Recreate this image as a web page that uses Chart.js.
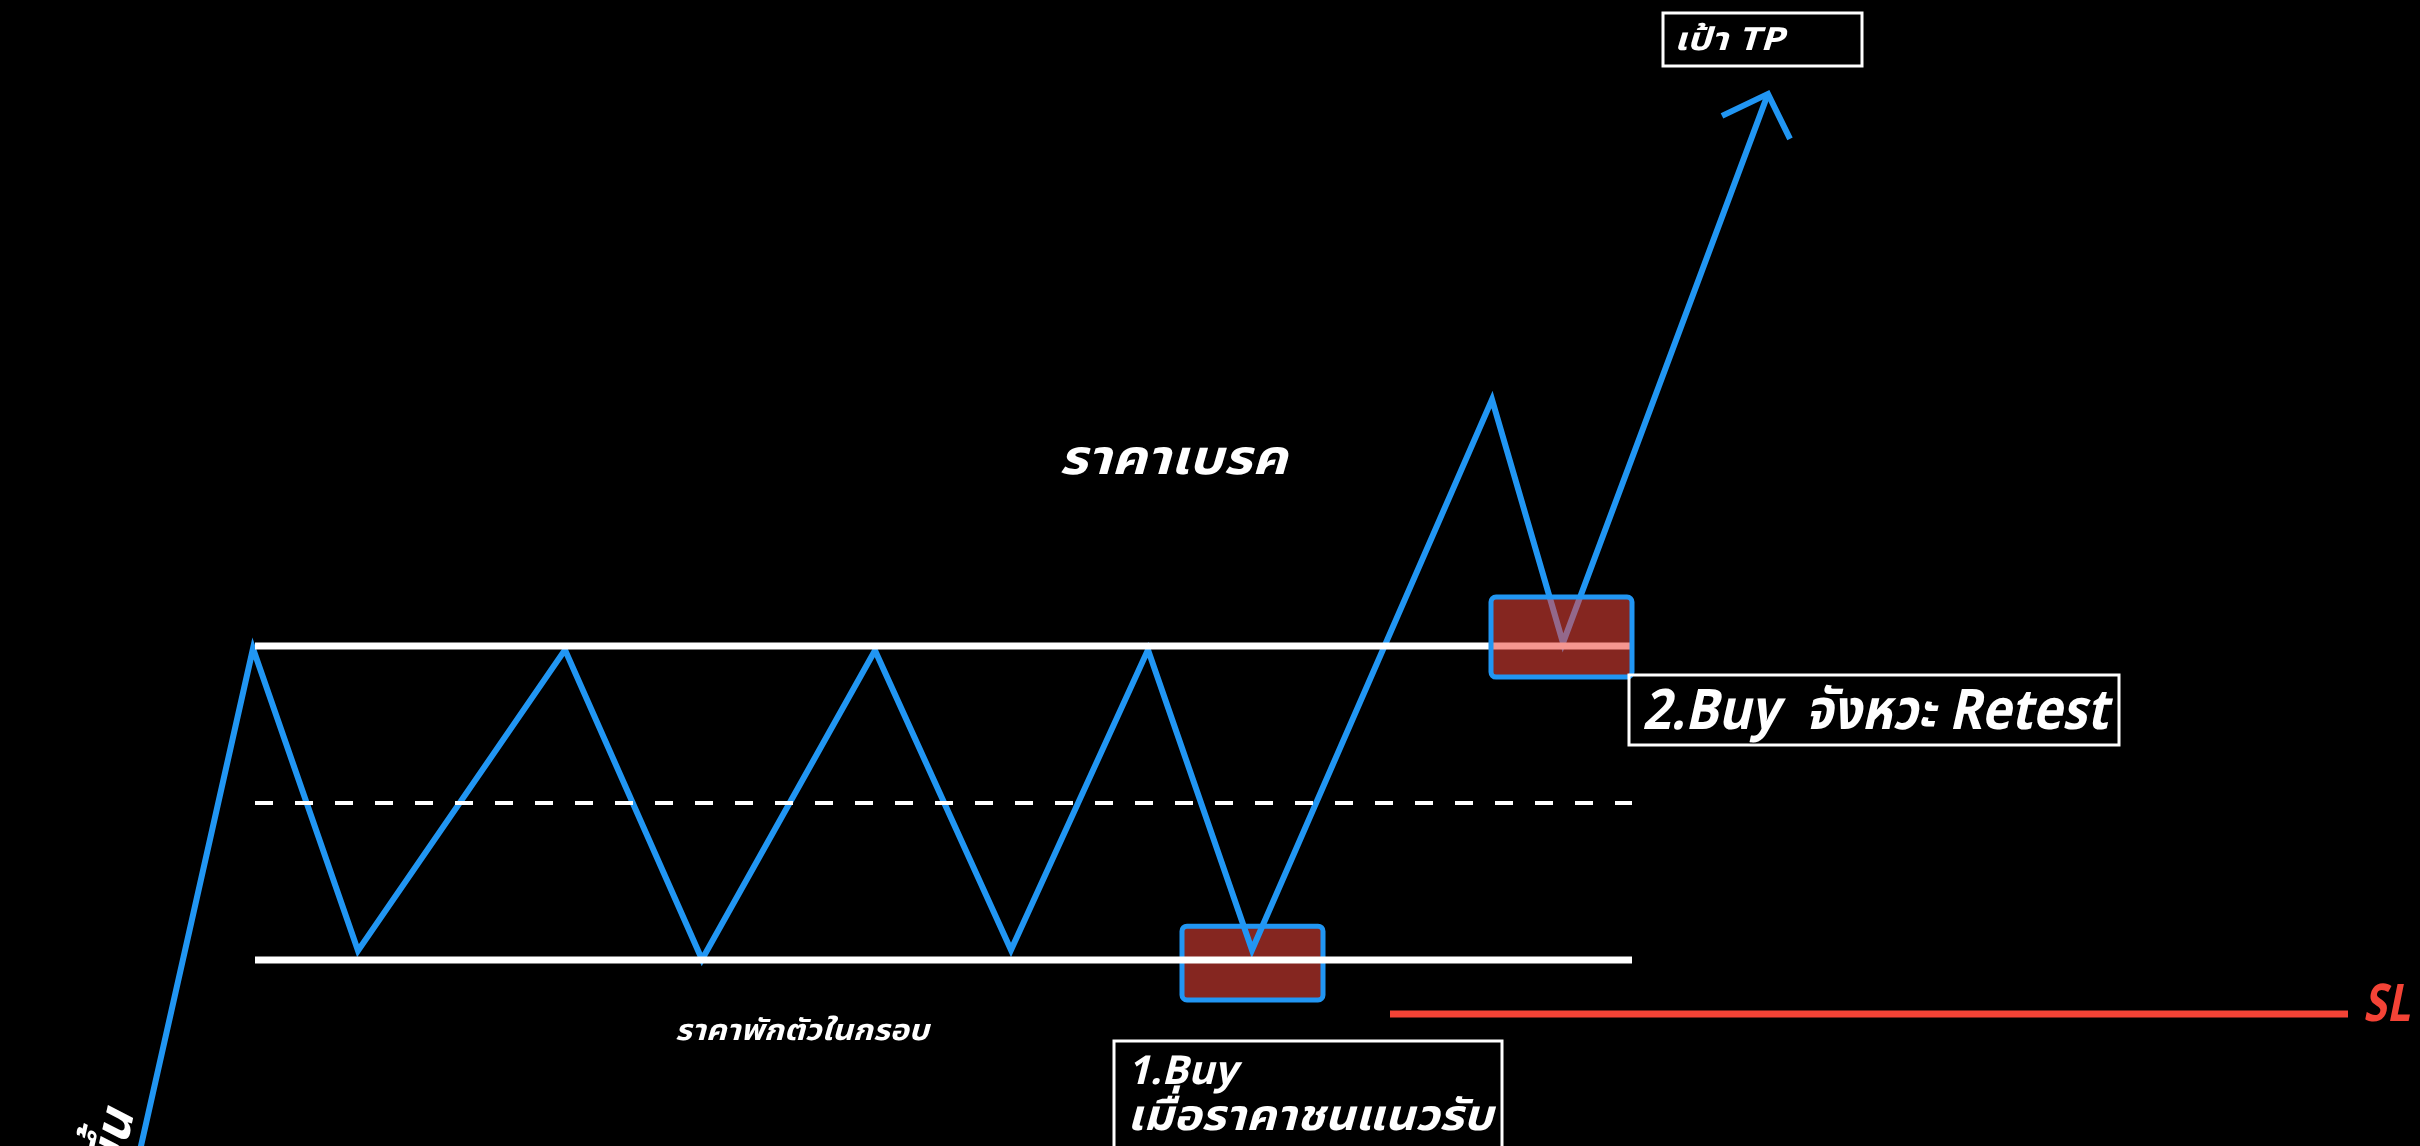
<!DOCTYPE html>
<html>
<head>
<meta charset="utf-8">
<script src="https://cdn.jsdelivr.net/npm/chart.js@4.4.1/dist/chart.umd.min.js"></script>
<style>
  html, body { margin: 0; padding: 0; background: #000; overflow: hidden; }
  canvas { display: block; }
</style>
</head>
<body>
<canvas id="chart" width="2420" height="1146"></canvas>
<script>
// ข้อมูลกราฟ (หน่วยเวลา x, ราคา y)
const pathX = [13.9, 25.3, 35.8, 56.5, 70.2, 87.5, 101.1, 114.8, 125.2, 149.2, 156.3, 176.8];
const pathY = [38.0, 199.2, 103.0, 198.8, 100.2, 198.6, 103.2, 198.8, 103.2, 278.5, 201.0, 375.8];

const arrowX = [172.2, 176.8, 179.0];
const arrowY = [368.8, 375.8, 361.5];

const rangeX = [25.5, 163.2];
const resistance = 200;
const midLevel = 150;
const support = 100;

const slX = [139.0, 234.8];
const slLevel = 82.8;

// โซนเข้า Buy
const zoneX = [[118.2, 132.3], [149.1, 163.2]];
const zoneY = [[87.3, 110.8], [190.1, 215.6]];

const BLUE = '#2196f3';
const RED = '#f44336';
const FONT = '"Noto Sans Thai", "Noto Sans", "DejaVu Sans", sans-serif';

const toPts = (xs, ys) => xs.map((x, i) => ({ x, y: ys[i] }));
const flat = (xs, y) => xs.map((x) => ({ x, y }));

const lineDs = (data, color, width, extra = {}) => ({
  data, borderColor: color, borderWidth: width, pointRadius: 0, tension: 0,
  fill: false, borderJoinStyle: 'miter', borderCapStyle: 'butt', ...extra,
});

const datasets = [
  lineDs(flat(rangeX, resistance), '#ffffff', 7),
  lineDs(flat(rangeX, support), '#ffffff', 7),
  lineDs(flat(rangeX, midLevel), '#ffffff', 4, { borderDash: [18, 22] }),
  lineDs(flat(slX, slLevel), RED, 7),
  lineDs(toPts(pathX, pathY), BLUE, 6),
  lineDs(toPts(arrowX, arrowY), BLUE, 6),
];
const PATH_INDEX = 4;

const roundRect = (ctx, x, y, w, h, r) => {
  ctx.beginPath();
  ctx.moveTo(x + r, y);
  ctx.arcTo(x + w, y, x + w, y + h, r);
  ctx.arcTo(x + w, y + h, x, y + h, r);
  ctx.arcTo(x, y + h, x, y, r);
  ctx.arcTo(x, y, x + w, y, r);
  ctx.closePath();
};

const drawZone = (chart, i) => {
  const { ctx, scales: { x, y } } = chart;
  const x0 = x.getPixelForValue(zoneX[i][0]);
  const x1 = x.getPixelForValue(zoneX[i][1]);
  const y0 = y.getPixelForValue(zoneY[i][1]);
  const y1 = y.getPixelForValue(zoneY[i][0]);
  ctx.save();
  roundRect(ctx, x0, y0, x1 - x0, y1 - y0, 5);
  ctx.fillStyle = 'rgba(237, 68, 57, 0.56)';
  ctx.fill();
  ctx.lineWidth = 5;
  ctx.strokeStyle = BLUE;
  ctx.stroke();
  ctx.restore();
};

// ข้อความ (บีบให้พอดีความกว้าง)
const text = (ctx, str, x, y, size, width, opts = {}) => {
  ctx.save();
  ctx.font = `italic bold ${size}px ${FONT}`;
  ctx.fillStyle = opts.color ?? '#ffffff';
  ctx.textBaseline = 'alphabetic';
  const w = ctx.measureText(str).width;
  const k = width ? width / w : 1;
  ctx.translate(x, y);
  if (opts.rotate) ctx.rotate(opts.rotate);
  ctx.scale(k, 1);
  ctx.shadowColor = 'rgba(0,0,0,0.8)';
  ctx.shadowBlur = 3;
  ctx.fillText(str, opts.alignRight ? -w : (opts.center ? -w / 2 : 0), 0);
  ctx.restore();
};

const box = (ctx, x, y, w, h, lw) => {
  ctx.save();
  ctx.strokeStyle = '#ffffff';
  ctx.lineWidth = lw;
  ctx.strokeRect(x, y, w, h);
  ctx.restore();
};

const overlay = {
  id: 'overlay',
  beforeDatasetDraw(chart, args) {
    if (args.index === PATH_INDEX) drawZone(chart, 0);
  },
  afterDatasetsDraw(chart) {
    drawZone(chart, 1);
    const { ctx } = chart;

    box(ctx, 1663, 13, 199, 53, 3);
    text(ctx, 'เป้า TP', 1674, 50, 32, 110);

    text(ctx, 'ราคาเบรค', 1173, 474, 48, 228, { center: true });
    text(ctx, 'ราคาพักตัวในกรอบ', 802, 1040, 29, 254, { center: true });

    box(ctx, 1629, 675, 490, 70, 3);
    text(ctx, '2.Buy  จังหวะ Retest', 1642, 729, 56, 466);

    box(ctx, 1114, 1041, 388, 130, 3);
    text(ctx, '1.Buy', 1127, 1084, 40, 110);
    text(ctx, 'เมื่อราคาชนแนวรับ', 1127, 1130, 43, 366);

    text(ctx, 'SL', 2363, 1021, 52, 47, { color: RED });

    text(ctx, 'แนวโน้มขาขึ้น', 134, 1114, 50, null, { rotate: -77 * Math.PI / 180, alignRight: true });
  },
};

new Chart(document.getElementById('chart'), {
  type: 'line',
  data: { datasets },
  options: {
    responsive: false,
    animation: false,
    devicePixelRatio: 1,
    layout: { padding: 0 },
    plugins: { legend: { display: false }, tooltip: { enabled: false } },
    scales: {
      x: { type: 'linear', min: 0, max: 242, display: false },
      y: { type: 'linear', min: 40.8, max: 405.7, display: false },
    },
  },
  plugins: [overlay],
});
</script>
</body>
</html>
